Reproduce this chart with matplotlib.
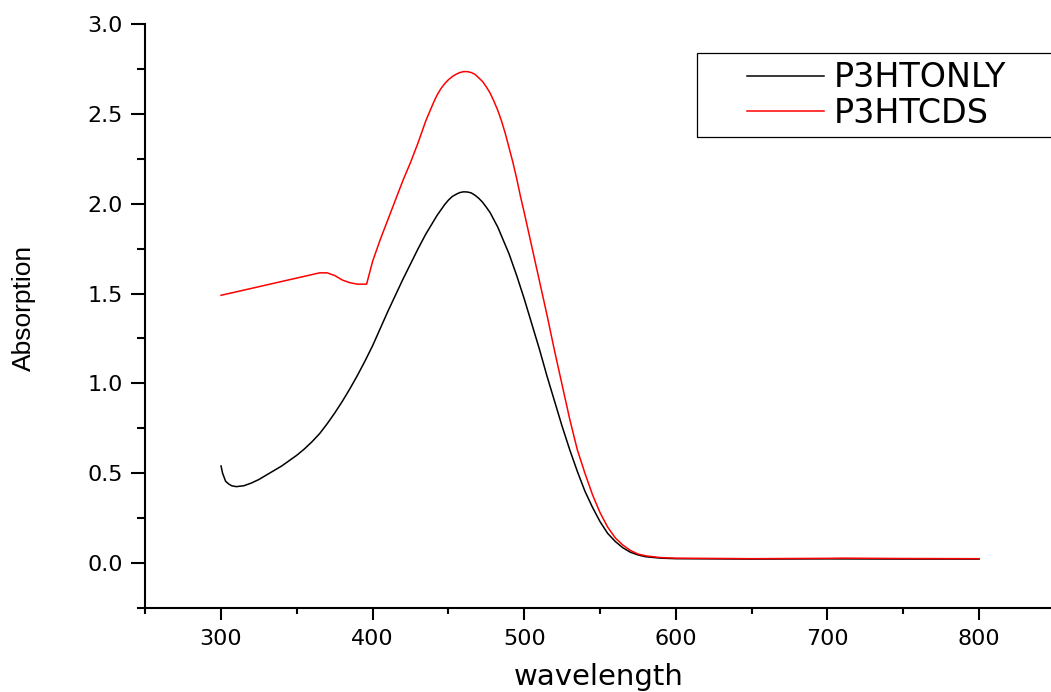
import matplotlib
matplotlib.use("Agg")
import matplotlib.pyplot as plt
from matplotlib.patches import Rectangle
from matplotlib.ticker import MultipleLocator, FormatStrFormatter

# P3HT only (black)
wl_only = [300, 301, 303, 305, 307, 310, 315, 320, 325, 330, 335, 340, 345, 350,
           355, 360, 365, 370, 375, 380, 385, 390, 395, 400, 405, 410, 415, 420,
           425, 430, 435, 440, 442.5, 445, 447.5, 450, 452.5, 455, 457.5, 460,
           462.5, 465, 467.5, 470, 472.5, 475, 477.5, 480, 482.5, 485, 487.5, 490,
           495, 500, 505, 510, 515, 520, 525, 530, 535, 540, 545, 550, 555, 560,
           565, 570, 575, 580, 590, 600, 650, 700, 750, 800]
abs_only = [0.54, 0.50, 0.455, 0.44, 0.43, 0.425, 0.43, 0.445, 0.465, 0.49, 0.515,
            0.54, 0.57, 0.60, 0.635, 0.675, 0.72, 0.775, 0.835, 0.90, 0.97, 1.045,
            1.125, 1.21, 1.305, 1.40, 1.49, 1.58, 1.665, 1.75, 1.83, 1.90, 1.935,
            1.965, 1.995, 2.02, 2.04, 2.052, 2.062, 2.066, 2.065, 2.06, 2.047,
            2.03, 2.008, 1.98, 1.95, 1.91, 1.87, 1.82, 1.77, 1.72, 1.60, 1.47,
            1.33, 1.19, 1.04, 0.90, 0.76, 0.63, 0.51, 0.40, 0.31, 0.23, 0.165,
            0.12, 0.085, 0.06, 0.045, 0.035, 0.027, 0.024, 0.022, 0.023, 0.022,
            0.022]

# P3HT + CdS (red)
wl_cds = [300, 365, 370, 375, 380, 385, 390, 396, 400, 405, 410, 415, 420, 425,
          430, 435, 440, 442.5, 445, 447.5, 450, 452.5, 455, 457.5, 460, 462.5,
          465, 467.5, 470, 472.5, 475, 477.5, 480, 482.5, 485, 487.5, 490, 492.5,
          495, 497.5, 500, 505, 510, 515, 520, 525, 530, 535, 540, 545, 550, 555,
          560, 565, 570, 575, 580, 590, 600, 650, 700, 710, 750, 800]
abs_cds = [1.49, 1.615, 1.615, 1.60, 1.575, 1.56, 1.552, 1.552, 1.68, 1.80, 1.91,
           2.02, 2.13, 2.23, 2.34, 2.46, 2.56, 2.605, 2.64, 2.668, 2.69, 2.707,
           2.72, 2.73, 2.735, 2.735, 2.73, 2.72, 2.70, 2.68, 2.65, 2.615, 2.57,
           2.52, 2.46, 2.39, 2.31, 2.23, 2.14, 2.04, 1.95, 1.76, 1.57, 1.38, 1.18,
           0.99, 0.80, 0.63, 0.50, 0.38, 0.28, 0.20, 0.14, 0.10, 0.07, 0.05, 0.04,
           0.03, 0.027, 0.024, 0.026, 0.027, 0.025, 0.024]

fig = plt.figure(figsize=(10.51, 6.92), dpi=100)
ax = fig.add_axes([0.1382, 0.1215, 0.8655, 0.8438])

ax.plot(wl_only, abs_only, color="black", lw=1.1, label="P3HTONLY")
ax.plot(wl_cds, abs_cds, color="#ff0000", lw=1.1, label="P3HTCDS")

ax.set_xlim(250, 850)
ax.set_ylim(-0.25, 3.0)
ax.xaxis.set_major_locator(MultipleLocator(100))
ax.xaxis.set_minor_locator(MultipleLocator(50))
ax.yaxis.set_major_locator(MultipleLocator(0.5))
ax.yaxis.set_minor_locator(MultipleLocator(0.25))
ax.yaxis.set_major_formatter(FormatStrFormatter("%.1f"))

for s in ["top", "right"]:
    ax.spines[s].set_visible(False)
for s in ["left", "bottom"]:
    ax.spines[s].set_linewidth(1.5)

ax.tick_params(which="both", direction="out", width=1.5, labelsize=16)
ax.tick_params(axis="y", which="major", length=10, pad=6)
ax.tick_params(axis="y", which="minor", length=5.5)
ax.tick_params(axis="x", which="major", length=8.5, pad=7)
ax.tick_params(axis="x", which="minor", length=4.5)

ax.set_xlabel("wavelength", fontsize=21)
ax.xaxis.set_label_coords(0.499, -0.095)
ax.set_ylabel("Absorption", fontsize=19, family="Liberation Sans")
ax.yaxis.set_label_coords(-0.12, 0.514)

# legend box drawn separately, entries from a frameless legend
box = Rectangle((0.6066, 0.8065), 0.42, 0.1438, transform=ax.transAxes,
                fill=False, edgecolor="black", lw=0.9, clip_on=False)
ax.add_patch(box)
ax.legend(loc="upper left", bbox_to_anchor=(0.6616, 0.9358), frameon=False,
          borderpad=0, borderaxespad=0, fontsize=24, handlelength=2.3,
          handletextpad=0.3, labelspacing=0.08)

fig.savefig("out.png", dpi=100)
